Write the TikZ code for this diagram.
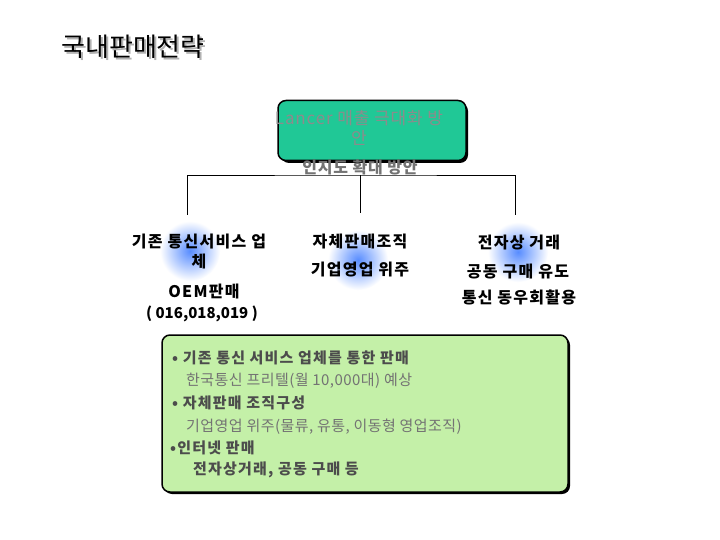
\documentclass[tikz,border=0pt]{standalone}
\usepackage{fontspec}
\setmainfont{Noto Sans CJK KR}
\definecolor{goalgreen}{HTML}{20C896}
\definecolor{notegreen}{HTML}{C4F0A8}
\definecolor{glowblue}{HTML}{3A78FF}

\begin{document}
\begin{tikzpicture}[x=1pt, y=-1pt,
	coltext/.style={font=\fontsize{16}{20}\selectfont\bfseries\addfontfeatures{LetterSpace=8}, text=black, inner sep=0pt, align=center},
	notebold/.style={font=\fontsize{15}{17}\selectfont\bfseries\addfontfeatures{LetterSpace=8}, text=black!70, anchor=west, inner sep=0pt},
	noteplain/.style={font=\fontsize{15}{17}\selectfont\addfontfeatures{LetterSpace=3}, text=black!55, anchor=west, inner sep=0pt}]
		%%%%% START %%%%%
		\useasboundingbox[fill=white] (0,0) rectangle (720,540);
		
		% title with shadow
		\node[font=\fontsize{26}{28}\selectfont, text=black!30] at (135,49) {국내판매전략};
		\node[font=\fontsize{26}{28}\selectfont, text=black] (title) at (133,47) {국내판매전략};
		
		% goal box
		\fill[black, rounded corners=8pt] (281,103) rectangle (468,163);
		\node[draw=black, line width=1.5pt, fill=goalgreen, rounded corners=8pt, minimum width=188pt, minimum height=60pt, inner sep=0pt] (goal) at (372,130.5) {};
		\node[font=\fontsize{17}{20}\selectfont\addfontfeatures{LetterSpace=5}, text=black!45, align=center] (goaltext) at (359,128) {Lancer 매출 극대화 방\\안};
		\node[font=\fontsize{16}{18}\selectfont\bfseries\addfontfeatures{LetterSpace=5}, text=black!55, inner sep=1pt] (aware) at (360,167) {인지도 확대 방안};
		
		% tree lines
		\coordinate (split) at (360,175);
		\coordinate (lftend) at (187,215);
		\coordinate (midend) at (360,213);
		\coordinate (rgtend) at (515,215);
		\draw[line width=0.8pt] (aware.south) -- (split);
		\draw[line width=0.8pt] (lftend) |- (split) -| (rgtend);
		\draw[line width=0.8pt] (split) -- (midend);
		
		% glow spots
		\shade[inner color=glowblue!85, outer color=white] (190,251) circle (30);
		\shade[inner color=glowblue!85, outer color=white] (358,260) circle (30);
		\shade[inner color=glowblue!85, outer color=white] (518,252) circle (30);
		
		% left column
		\node[coltext] (oem) at (199,251) {기존 통신서비스 업\\체};
		\node[coltext] (oemsale) at (204,291) {OEM판매};
		\node[coltext, font=\fontsize{15}{17}\selectfont\bfseries] (oemnum) at (202,314) {( 016,018,019 )};
		
		% middle column
		\node[coltext] (own) at (360,242) {자체판매조직};
		\node[coltext] (ownbiz) at (360,270) {기업영업 위주};
		
		% right column
		\node[coltext] (ecom) at (519,243) {전자상 거래};
		\node[coltext] (ecombuy) at (518,272) {공동 구매 유도};
		\node[coltext] (ecomclub) at (519,297) {통신 동우회활용};
		
		% notes box
		\fill[black, rounded corners=8pt] (164,337) rectangle (570,494);
		\node[draw=black, line width=1.5pt, fill=notegreen, rounded corners=8pt, minimum width=406pt, minimum height=157pt, inner sep=0pt] (notes) at (365,413.5) {};
		\node[notebold] (note1) at (172,358) {• 기존 통신 서비스 업체를 통한 판매};
		\node[noteplain] (note2) at (186,381) {한국통신 프리텔(월 10,000대) 예상};
		\node[notebold] (note3) at (172,403) {• 자체판매 조직구성};
		\node[noteplain] (note4) at (186,427) {기업영업 위주(물류, 유통, 이동형 영업조직)};
		\node[notebold] (note5) at (170,448) {•인터넷 판매};
		\node[notebold] (note6) at (193,470) {전자상거래, 공동 구매 등};
		
		%%%%% END %%%%%
\end{tikzpicture}
\end{document}
